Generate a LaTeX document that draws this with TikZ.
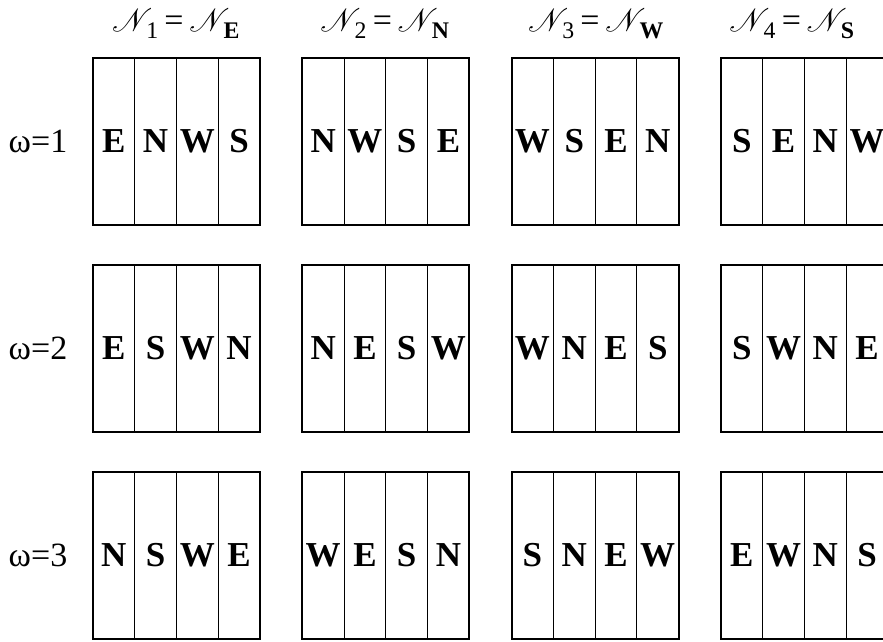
\documentclass[tikz,border=0pt]{standalone}
\usepackage{fontspec}
\setmainfont{Liberation Serif}
\usepackage{amsmath}
\usepackage{mathrsfs}
\newcommand\scrN{\scalebox{1.3}{$\mathscr{N}$}\mkern-4.5mu}

\begin{document}
\begin{tikzpicture}[x=1pt,y=-1pt,
  lab/.style={font=\fontsize{34}{40}\selectfont},
  cell/.style={draw,line width=0.9pt,minimum width=41.75pt,minimum height=167pt,
    inner sep=0pt,font=\fontsize{35}{42}\selectfont\bfseries},
  frame/.style={draw,line width=1.8pt,minimum size=167pt,inner sep=0pt}]

\useasboundingbox (0,0) rectangle (883,641);

% headers
\node[lab,anchor=base] (hd-1) at (176,31) {$\scrN_{\text{1}}$\,=\,$\scrN_{\textbf{E}}$};
\node[lab,anchor=base] (hd-2) at (385,31) {$\scrN_{\text{2}}$\,=\,$\scrN_{\textbf{N}}$};
\node[lab,anchor=base] (hd-3) at (596,31) {$\scrN_{\text{3}}$\,=\,$\scrN_{\textbf{W}}$};
\node[lab,anchor=base] (hd-4) at (792,31) {$\scrN_{\text{4}}$\,=\,$\scrN_{\textbf{S}}$};

% rows
\foreach \r/\letters in {1/{E,N,W,S,N,W,S,E,W,S,E,N,S,E,N,W},
                         2/{E,S,W,N,N,E,S,W,W,N,E,S,S,W,N,E},
                         3/{N,S,W,E,W,E,S,N,S,N,E,W,E,W,N,S}} {
  \pgfmathsetmacro\ymid{141.5+207*(\r-1)}
  \node[lab] (om-\r) at (38,\ymid) {ω=\r};
  \foreach \l [count=\i from 0] in \letters {
    \pgfmathtruncatemacro\c{div(\i,4)}
    \pgfmathtruncatemacro\k{mod(\i,4)}
    \node[cell] (cell-\r-\i) at ({93+209.3*\c+41.75*(\k+0.5)},\ymid) {\l};
  }
  \foreach \c in {0,...,3}
    \node[frame] (box-\r-\c) at ({93+209.3*\c+83.5},\ymid) {};
}
\end{tikzpicture}
\end{document}
